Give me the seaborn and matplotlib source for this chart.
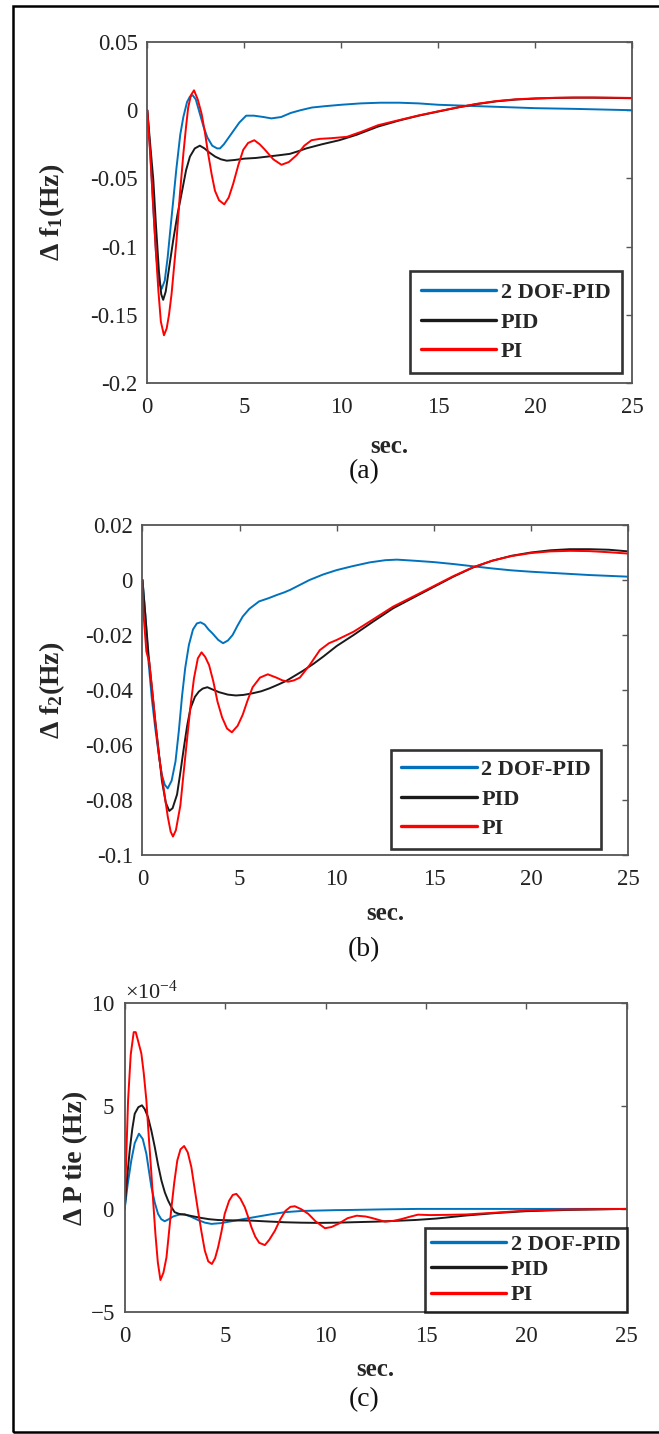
import pandas as pd
import numpy as np
import matplotlib.pyplot as plt
import matplotlib.ticker as mticker
from matplotlib.patches import Rectangle
import seaborn as sns

# ---------------- dados ----------------
controladores = ["2 DOF-PID", "PID", "PI"]

# (a) desvio de frequencia da area 1
t_a_dof = [0, 0.15, 0.3, 0.45, 0.6, 0.74, 0.9, 1.05, 1.2, 1.34, 1.5, 1.7, 1.86, 2.05, 2.2, 2.34, 2.5, 2.7,
           2.9, 3.1, 3.35, 3.6, 3.75, 3.95, 4.2, 4.45, 4.75, 5.1, 5.5, 6.0, 6.4, 6.9, 7.4, 7.9, 8.5, 9.2,
           10, 11, 12, 13, 14, 15, 16, 17, 18, 19, 20, 22, 25]
v_a_dof = [0, -0.03, -0.07, -0.105, -0.126, -0.131, -0.125, -0.108, -0.086, -0.066, -0.043, -0.018, -0.005,
           0.006, 0.010, 0.011, 0.008, -0.002, -0.012, -0.020, -0.026, -0.028, -0.028, -0.025, -0.020, -0.015,
           -0.009, -0.004, -0.004, -0.005, -0.006, -0.005, -0.002, 0.0, 0.002, 0.003, 0.004, 0.005, 0.0055,
           0.0055, 0.005, 0.004, 0.0035, 0.003, 0.0025, 0.002, 0.0015, 0.001, 0.0]
t_a_pid = [0, 0.15, 0.31, 0.45, 0.6, 0.72, 0.82, 0.95, 1.1, 1.34, 1.55, 1.77, 2.0, 2.2, 2.45, 2.71, 2.95, 3.2,
           3.5, 3.8, 4.1, 4.5, 5.0, 5.6, 6.2, 6.8, 7.35, 7.8, 8.2, 9.0, 9.9, 10.8, 11.9, 13, 14, 15, 16, 17,
           18, 19, 20, 21, 22, 23, 24, 25]
v_a_pid = [0, -0.025, -0.051, -0.085, -0.118, -0.135, -0.139, -0.133, -0.118, -0.095, -0.077, -0.061, -0.044,
           -0.034, -0.028, -0.026, -0.028, -0.031, -0.034, -0.036, -0.037, -0.0365, -0.0355, -0.035, -0.034,
           -0.033, -0.032, -0.030, -0.028, -0.025, -0.022, -0.018, -0.012, -0.0075, -0.004, -0.001, 0.002,
           0.0045, 0.0065, 0.0078, 0.0085, 0.009, 0.0092, 0.0092, 0.009, 0.0088]
t_a_pi = [0, 0.15, 0.31, 0.45, 0.57, 0.7, 0.86, 1.0, 1.12, 1.25, 1.38, 1.51, 1.68, 1.86, 2.0, 2.11, 2.25, 2.41,
          2.6, 2.8, 2.97, 3.14, 3.32, 3.49, 3.7, 3.97, 4.2, 4.43, 4.7, 4.95, 5.2, 5.52, 5.8, 6.07, 6.5, 6.92,
          7.3, 7.7, 8.1, 8.47, 8.9, 9.5, 10.3, 11.1, 11.9, 13, 14, 15, 16, 17, 18, 19, 20, 21, 22, 23, 24, 25]
v_a_pi = [0, -0.032, -0.071, -0.105, -0.132, -0.155, -0.165, -0.160, -0.150, -0.135, -0.115, -0.095, -0.062,
          -0.032, -0.012, 0.002, 0.011, 0.0146, 0.008, -0.0025, -0.016, -0.032, -0.047, -0.059, -0.066, -0.069,
          -0.064, -0.054, -0.040, -0.029, -0.024, -0.022, -0.025, -0.029, -0.036, -0.040, -0.038, -0.033,
          -0.026, -0.022, -0.021, -0.0205, -0.0195, -0.0155, -0.011, -0.0072, -0.0038, -0.0008, 0.002, 0.0047,
          0.0067, 0.008, 0.0087, 0.0091, 0.0093, 0.0093, 0.0092, 0.009]

# (b) desvio de frequencia da area 2
t_b_dof = [0, 0.15, 0.31, 0.48, 0.66, 0.83, 1.0, 1.15, 1.3, 1.5, 1.7, 1.87, 2.04, 2.2, 2.39, 2.6, 2.8, 2.99,
           3.2, 3.4, 3.6, 3.9, 4.15, 4.4, 4.64, 4.9, 5.16, 5.5, 6.0, 6.5, 6.9, 7.3, 7.6, 8.1, 8.6, 9.3, 10.0,
           10.8, 11.7, 12.5, 13.1, 14, 15, 16, 17, 18, 19, 20, 21, 22, 23, 24, 25]
v_b_dof = [0, -0.013, -0.0297, -0.043, -0.054, -0.063, -0.071, -0.0745, -0.0758, -0.073, -0.066, -0.055, -0.042,
           -0.032, -0.0236, -0.018, -0.0158, -0.0154, -0.0162, -0.018, -0.0194, -0.0218, -0.023, -0.022, -0.020,
           -0.0165, -0.0133, -0.0105, -0.0078, -0.0066, -0.0055, -0.0045, -0.0036, -0.0018, 0.0, 0.002, 0.0036,
           0.005, 0.0064, 0.0072, 0.0074, 0.007, 0.0065, 0.0058, 0.005, 0.0042, 0.0035, 0.003, 0.0026, 0.0022,
           0.0018, 0.0015, 0.0012]
t_b_pid = [0, 0.15, 0.31, 0.48, 0.66, 0.83, 1.0, 1.2, 1.38, 1.55, 1.78, 1.95, 2.13, 2.3, 2.47, 2.7, 2.9, 3.1,
           3.34, 3.6, 3.94, 4.4, 4.81, 5.2, 5.67, 6.1, 6.54, 7.0, 7.4, 7.8, 8.27, 8.8, 9.3, 10.0, 10.87, 11.9,
           12.9, 14, 15, 16, 17, 18, 19, 20, 21, 22, 23, 24, 25]
v_b_pid = [0, -0.013, -0.027, -0.039, -0.0515, -0.062, -0.073, -0.081, -0.084, -0.083, -0.078, -0.070, -0.061,
           -0.053, -0.0467, -0.0425, -0.0406, -0.0395, -0.039, -0.0398, -0.0408, -0.0417, -0.042, -0.0418,
           -0.0412, -0.0405, -0.0394, -0.038, -0.0367, -0.035, -0.033, -0.0305, -0.0279, -0.024, -0.020,
           -0.015, -0.0103, -0.0062, -0.0025, 0.0012, 0.0045, 0.007, 0.0088, 0.0100, 0.0108, 0.0112, 0.0112,
           0.011, 0.0104]
t_b_pi = [0, 0.05, 0.2, 0.35, 0.5, 0.66, 0.85, 1.09, 1.3, 1.45, 1.57, 1.72, 1.95, 2.12, 2.3, 2.47, 2.65, 2.85,
          3.04, 3.23, 3.43, 3.65, 3.86, 4.1, 4.35, 4.6, 4.9, 5.16, 5.4, 5.67, 6.05, 6.45, 6.89, 7.2, 7.5, 7.8,
          8.1, 8.6, 9.13, 9.6, 10.0, 10.87, 11.9, 12.9, 14, 15, 16, 17, 18, 19, 20, 21, 22, 23, 24, 25]
v_b_pi = [0, -0.012, -0.026, -0.030, -0.040, -0.0515, -0.064, -0.0758, -0.086, -0.0915, -0.0933, -0.091, -0.082,
          -0.070, -0.0576, -0.046, -0.0358, -0.0285, -0.0263, -0.028, -0.031, -0.037, -0.0442, -0.050, -0.054,
          -0.0554, -0.053, -0.049, -0.044, -0.039, -0.0355, -0.0343, -0.0355, -0.0365, -0.037, -0.0365,
          -0.0355, -0.031, -0.0255, -0.023, -0.0218, -0.0188, -0.0142, -0.0097, -0.0058, -0.0022, 0.0014,
          0.0046, 0.007, 0.0087, 0.0098, 0.0104, 0.0106, 0.0105, 0.0101, 0.0096]

# (c) potencia de intercambio (unidades de 1e-4)
t_c_dof = [0, 0.15, 0.33, 0.5, 0.71, 0.9, 1.08, 1.2, 1.33, 1.5, 1.66, 1.82, 1.99, 2.2, 2.41, 2.7, 2.99, 3.3,
           3.65, 4.0, 4.32, 4.8, 5.32, 6.0, 6.64, 7.3, 7.97, 8.8, 9.63, 10.5, 11.3, 13, 14.6, 17, 20, 25]
v_c_dof = [0, 1.2, 2.36, 3.2, 3.66, 3.4, 2.68, 1.9, 1.06, 0.3, -0.24, -0.5, -0.6, -0.5, -0.37, -0.28, -0.26,
           -0.38, -0.54, -0.67, -0.73, -0.69, -0.6, -0.48, -0.37, -0.26, -0.16, -0.1, -0.08, -0.06, -0.05,
           -0.02, 0.0, 0.0, 0.0, 0.0]
t_c_pid = [0, 0.12, 0.25, 0.38, 0.5, 0.68, 0.86, 1.0, 1.16, 1.33, 1.5, 1.66, 1.83, 2.0, 2.16, 2.33, 2.49, 2.7,
           2.99, 3.4, 3.82, 4.2, 4.65, 5.5, 6.31, 7.1, 7.97, 8.8, 9.63, 10.5, 11.3, 12.5, 13.5, 14.45, 15.5, 17,
           18.5, 20, 22, 25]
v_c_pid = [0, 1.5, 2.85, 3.9, 4.63, 4.95, 5.04, 4.85, 4.47, 3.8, 3.0, 2.15, 1.38, 0.8, 0.41, 0.08, -0.16, -0.24,
           -0.28, -0.36, -0.44, -0.5, -0.54, -0.56, -0.57, -0.61, -0.65, -0.67, -0.68, -0.67, -0.65, -0.62,
           -0.58, -0.54, -0.47, -0.32, -0.2, -0.11, -0.05, 0.0]
t_c_pi = [0, 0.08, 0.17, 0.3, 0.45, 0.55, 0.66, 0.83, 0.95, 1.08, 1.2, 1.33, 1.43, 1.53, 1.65, 1.78, 1.93, 2.08,
          2.2, 2.33, 2.47, 2.62, 2.78, 2.96, 3.14, 3.32, 3.48, 3.65, 3.82, 3.99, 4.16, 4.34, 4.5, 4.65, 4.82,
          4.98, 5.2, 5.38, 5.56, 5.76, 5.98, 6.15, 6.31, 6.5, 6.7, 6.98, 7.2, 7.48, 7.75, 8.0, 8.25, 8.47, 8.8,
          9.14, 9.5, 9.97, 10.3, 10.63, 11.1, 11.55, 12.0, 12.3, 12.96, 13.4, 13.8, 14.2, 14.6, 15.2, 16, 17,
          18.5, 20, 22, 25]
v_c_pi = [0, 2.6, 5.3, 7.5, 8.6, 8.6, 8.2, 7.56, 6.6, 5.28, 3.5, 1.7, 0.2, -1.22, -2.6, -3.46, -3.1, -2.36,
          -1.2, 0.08, 1.3, 2.36, 2.9, 3.06, 2.75, 2.03, 1.0, -0.08, -1.1, -2.03, -2.55, -2.68, -2.4, -1.87,
          -1.1, -0.24, 0.4, 0.68, 0.73, 0.5, 0.08, -0.4, -0.89, -1.35, -1.65, -1.76, -1.5, -1.06, -0.5, -0.1,
          0.1, 0.13, -0.02, -0.24, -0.6, -0.94, -0.88, -0.73, -0.45, -0.33, -0.37, -0.44, -0.62, -0.58, -0.49,
          -0.38, -0.28, -0.3, -0.29, -0.27, -0.18, -0.08, -0.03, 0.0]
escala_c = 1e-4

cores = {"2 DOF-PID": "#0072BD", "PID": "#1a1a1a", "PI": "#FF0000"}


def monta_df(series, escala=1.0):
    partes = []
    for nome, (t, v) in zip(controladores, series):
        partes.append(pd.DataFrame({"t": t, "v": np.array(v) * escala, "ctrl": nome}))
    return pd.concat(partes, ignore_index=True)


sns.set_theme(style="white")
plt.rcParams['font.family'] = ['Liberation Serif', 'DejaVu Serif']
plt.rcParams['mathtext.default'] = 'regular'

fig = plt.figure(figsize=(6.59, 14.34), dpi=100)


def painel(rect, df, ylim, yticks, ylabel, ylab_x, leg_anchor, labelpad, espaco, bpad):
    ax = fig.add_axes(rect)
    sns.lineplot(data=df, x="t", y="v", hue="ctrl", hue_order=controladores, palette=cores,
                 estimator=None, sort=False, linewidth=1.4, ax=ax)
    ax.set_xlim(0, 25)
    ax.set_ylim(*ylim)
    ax.set_xticks([0, 5, 10, 15, 20, 25])
    ax.set_yticks(yticks)
    ax.tick_params(direction="in", top=True, right=True, length=4, width=1, color="#555555",
                   labelsize=16.5, labelcolor="#222222")
    ax.tick_params(axis="x", pad=10)
    ax.tick_params(axis="y", pad=7)
    for sp in ax.spines.values():
        sp.set_color("#555555")
        sp.set_linewidth(1.3)
    ax.set_xlabel("sec.", fontsize=18, fontweight="bold", labelpad=labelpad)
    ax.set_ylabel(ylabel, fontsize=20, fontweight="bold")
    ax.yaxis.set_label_coords(ylab_x, 0.5)

    handles, labels = ax.get_legend_handles_labels()
    leg = ax.legend(handles, labels, loc="lower right", bbox_to_anchor=leg_anchor, frameon=True,
                    fancybox=False, edgecolor="black", prop={"weight": "bold", "size": 16},
                    handlelength=3.4, handletextpad=0.2, labelspacing=espaco, borderpad=bpad,
                    borderaxespad=0)
    leg.get_frame().set_linewidth(1.9)
    for h in leg.get_lines():
        h.set_linewidth(2.4)
    return ax


# (a)
ax_a = painel([0.2235, 0.7329, 0.7355, 0.2378],
              monta_df([(t_a_dof, v_a_dof), (t_a_pid, v_a_pid), (t_a_pi, v_a_pi)]),
              (-0.2, 0.05), [-0.2, -0.15, -0.1, -0.05, 0, 0.05],
              "Δ f$_1$(Hz)", -0.166, (0.979, 0.029), 12, 0.4, 0.5)
ax_a.yaxis.set_major_formatter(mticker.FormatStrFormatter("%g"))

# (b)
ax_b = painel([0.2162, 0.4038, 0.737, 0.2301],
              monta_df([(t_b_dof, v_b_dof), (t_b_pid, v_b_pid), (t_b_pi, v_b_pi)]),
              (-0.1, 0.02), [-0.1, -0.08, -0.06, -0.04, -0.02, 0, 0.02],
              "Δ f$_2$(Hz)", -0.155, (0.944, 0.018), 9, 0.4, 0.45)
ax_b.yaxis.set_major_formatter(mticker.FormatStrFormatter("%g"))

# (c)
ax_c = painel([0.1892, 0.0853, 0.762, 0.2150],
              monta_df([(t_c_dof, v_c_dof), (t_c_pid, v_c_pid), (t_c_pi, v_c_pi)], escala_c),
              (-5e-4, 10e-4), [-5e-4, 0, 5e-4, 10e-4],
              "Δ P tie (Hz)", -0.073, (1.0, 0.0), 8, 0.22, 0.28)
ax_c.ticklabel_format(axis="y", style="sci", scilimits=(-4, -4), useMathText=True)
ax_c.yaxis.get_offset_text().set_fontsize(16)

# legendas (a), (b), (c)
for y, txt in [(0.671, "(a)"), (0.3375, "(b)"), (0.0237, "(c)")]:
    fig.text(0.552, y, txt, ha="center", va="center", fontsize=20, color="#111111")

# moldura externa
fig.add_artist(Rectangle((13 / 659, 1 - 1432 / 1434), 1.0, (1432 - 6) / 1434,
                         transform=fig.transFigure, fill=False, edgecolor="black", linewidth=1.8))

fig.savefig("out.png", dpi=100)
